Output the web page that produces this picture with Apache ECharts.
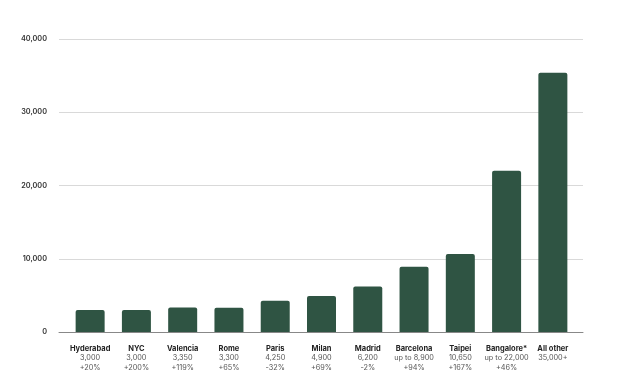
<!DOCTYPE html>
<html><head><meta charset="utf-8">
<script src="https://cdn.jsdelivr.net/npm/echarts@6/dist/echarts.min.js"></script>
<style>html,body{margin:0;padding:0;background:#fff}#c{width:620px;height:384px}</style>
</head><body><div id="c"></div>
<script>
const cities = ["Hyderabad","NYC","Valencia","Rome","Paris","Milan","Madrid","Barcelona","Taipei","Bangalore*","All other"];
const values = [3000,3000,3350,3300,4250,4900,6200,8900,10650,22000,35400];
const valueLabels = ["3,000","3,000","3,350","3,300","4,250","4,900","6,200","up to 8,900","10,650","up to 22,000","35,000+"];
const changes = ["+20%","+200%","+119%","+65%","-32%","+69%","-2%","+94%","+167%","+46%",""];
const yTicks = [0,10000,20000,30000,40000];

const chart = echarts.init(document.getElementById('c'));
chart.setOption({
  animation:false,
  grid:[{left:59,right:37,top:39,bottom:52},{left:67,right:44,top:39,bottom:52}],
  xAxis:[{
    gridIndex:0,type:'value',min:0,max:1,
    axisLine:{show:true,onZero:false,lineStyle:{color:'#888',width:1}},
    axisTick:{show:false},axisLabel:{show:false},splitLine:{show:false}
  },{
    gridIndex:1,type:'category', data:cities,
    axisLine:{show:false},
    axisTick:{show:false},
    axisLabel:{
      interval:0, margin:12,
      formatter:function(v,i){
        let s='{n|'+v+'}\n{s|'+valueLabels[i]+'}';
        if(changes[i]) s+='\n{s|'+changes[i]+'}';
        return s;
      },
      rich:{
        n:{fontFamily:'Inter',fontSize:7.5,fontWeight:'bold',color:'#222',lineHeight:9.5},
        s:{fontFamily:'Inter',fontSize:7.3,color:'#555',lineHeight:9.5}
      }
    }
  }],
  yAxis:[{
    gridIndex:0,type:'value', min:yTicks[0], max:yTicks[yTicks.length-1], interval:yTicks[1]-yTicks[0],
    axisLine:{show:false}, axisTick:{show:false},
    splitLine:{lineStyle:{color:'#d9d9d9'}},
    axisLabel:{fontFamily:'Inter',fontSize:7.3,fontWeight:600,color:'#333',margin:12,
      formatter:v=>v.toLocaleString('en-US')}
  },{
    gridIndex:1,type:'value', min:yTicks[0], max:yTicks[yTicks.length-1], show:false
  }],
  series:[{type:'bar',xAxisIndex:1,yAxisIndex:1,data:values,barWidth:29,
    itemStyle:{color:'#2f5443',borderRadius:[2,2,0,0]}}]
});
</script></body></html>
